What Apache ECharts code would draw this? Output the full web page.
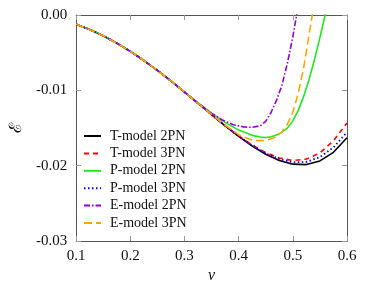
<!DOCTYPE html>
<html>
<head>
<meta charset="utf-8">
<script src="https://cdn.jsdelivr.net/npm/echarts@6/dist/echarts.min.js"></script>
<style>html,body{margin:0;padding:0;background:#fff}#c{width:374px;height:289px}</style>
</head>
<body>
<div id="c"></div>
<script>
// ---- data ----
const xTicks = [0.1, 0.2, 0.3, 0.4, 0.5, 0.6];
const yTicks = [-0.03, -0.02, -0.01, 0.00];

const vT = [0.100,0.125,0.150,0.175,0.200,0.225,0.250,0.275,0.300,0.325,0.350,0.375,0.400,0.425,0.450,0.475,0.500,0.525,0.550,0.575,0.600];
const tModel2PN = [-0.00124,-0.00193,-0.00276,-0.00373,-0.00482,-0.00604,-0.00735,-0.00875,-0.01022,-0.01172,-0.01323,-0.01471,-0.01611,-0.01738,-0.01847,-0.01930,-0.01979,-0.01985,-0.01936,-0.01822,-0.01628];
const tModel3PN = [-0.00124,-0.00193,-0.00276,-0.00373,-0.00482,-0.00604,-0.00735,-0.00875,-0.01022,-0.01171,-0.01320,-0.01466,-0.01603,-0.01725,-0.01826,-0.01898,-0.01931,-0.01912,-0.01830,-0.01670,-0.01432];
const pModel3PN = [-0.00124,-0.00193,-0.00276,-0.00373,-0.00482,-0.00604,-0.00735,-0.00875,-0.01022,-0.01172,-0.01322,-0.01469,-0.01607,-0.01731,-0.01836,-0.01912,-0.01955,-0.01950,-0.01885,-0.01757,-0.01555];

const vP2 = [0.100,0.125,0.150,0.175,0.200,0.225,0.250,0.275,0.300,0.325,0.350,0.375,0.400,0.425,0.440,0.450,0.460,0.475,0.490,0.500,0.510,0.520,0.530,0.540,0.550,0.560,0.565];
const pModel2PN = [-0.00124,-0.00193,-0.00276,-0.00373,-0.00482,-0.00604,-0.00735,-0.00875,-0.01022,-0.01166,-0.01302,-0.01425,-0.01527,-0.01597,-0.01619,-0.01625,-0.01617,-0.01578,-0.01500,-0.01405,-0.01265,-0.01080,-0.00855,-0.00590,-0.00300,0.00010,0.00170];

const vE3 = [0.100,0.125,0.150,0.175,0.200,0.225,0.250,0.275,0.300,0.325,0.350,0.375,0.400,0.420,0.435,0.450,0.465,0.480,0.490,0.500,0.510,0.520,0.530,0.540];
const eModel3PN = [-0.00124,-0.00193,-0.00276,-0.00373,-0.00482,-0.00604,-0.00735,-0.00875,-0.01022,-0.01171,-0.01320,-0.01462,-0.01588,-0.01650,-0.01667,-0.01664,-0.01630,-0.01550,-0.01450,-0.01290,-0.01040,-0.00700,-0.00260,0.00180];

const vE2 = [0.100,0.125,0.150,0.175,0.200,0.225,0.250,0.275,0.300,0.325,0.350,0.370,0.390,0.410,0.425,0.440,0.450,0.460,0.470,0.480,0.490,0.500,0.510];
const eModel2PN = [-0.00124,-0.00193,-0.00276,-0.00373,-0.00482,-0.00604,-0.00735,-0.00875,-0.01022,-0.01168,-0.01305,-0.01393,-0.01455,-0.01486,-0.01490,-0.01470,-0.01410,-0.01290,-0.01130,-0.00930,-0.00640,-0.00290,0.00130];

const names = ['T-model 2PN','T-model 3PN','P-model 2PN','P-model 3PN','E-model 2PN','E-model 3PN'];
// ---------------------------------------

function pairs(xs, ys){ return xs.map((x,i)=>[x, ys[i]]); }

const FONT = '"Liberation Serif", "Times New Roman", serif';
const chart = echarts.init(document.getElementById('c'), null, {renderer:'canvas'});

function xAx(pos, show){
  return {type:'value', position:pos, min:0.1, max:0.6, interval:0.1,
    axisLine:{show:true, onZero:false, lineStyle:{color:'#555', width:1}},
    axisTick:{show:true, inside:true, length:5, lineStyle:{color:'#999'}},
    axisLabel:{show:show, margin:7, color:'#111', fontFamily:FONT, fontSize:15,
      formatter:v=>v.toFixed(1)},
    splitLine:{show:false},
    name: show ? 'v' : '', nameLocation:'middle', nameGap:17,
    nameTextStyle:{fontFamily:FONT, fontStyle:'italic', fontSize:16, color:'#111'}
  };
}
function yAx(pos, show){
  return {type:'value', position:pos, min:-0.03, max:0, interval:0.01,
    axisLine:{show:true, onZero:false, lineStyle:{color:'#555', width:1}},
    axisTick:{show:true, inside:true, length:5, lineStyle:{color:'#999'}},
    axisLabel:{show:show, margin:9, color:'#111', fontFamily:FONT, fontSize:15,
      formatter:v=>v.toFixed(2)},
    splitLine:{show:false},
    name: show ? 'ℰ' : '', nameLocation:'middle', nameGap:34, nameRotate:90,
    nameTextStyle:{fontFamily:FONT, fontSize:17, color:'#111'}
  };
}

function ser(name, data, color, type, width){
  return {name, type:'line', data, symbol:'none', smooth:false, clip:true,
    xAxisIndex:0, yAxisIndex:0,
    lineStyle:{color, width, type}, itemStyle:{color}, z:2};
}

chart.setOption({
  animation:false,
  grid:{left:72, right:27, top:15, bottom:44, containLabel:false},
  xAxis:[xAx('bottom', true), xAx('top', false)],
  yAxis:[yAx('left', true), yAx('right', false)],
  legend:{orient:'vertical', left:78, top:124, itemWidth:17, itemHeight:14, itemGap:3.4,
    itemStyle:{opacity:0},
    textStyle:{fontFamily:FONT, fontSize:14, color:'#111', padding:[0,0,0,4]},
    data:names},
  series:[
    ser(names[0], pairs(vT, tModel2PN), '#000000', 'solid', 1.6),
    ser(names[1], pairs(vT, tModel3PN), '#ff0000', [5,4], 1.6),
    ser(names[2], pairs(vP2, pModel2PN), '#22e622', 'solid', 1.6),
    ser(names[3], pairs(vT, pModel3PN), '#0000ff', [1.5,2.5], 1.8),
    ser(names[4], pairs(vE2, eModel2PN), '#9400d3', [6,2,1.5,2], 1.6),
    ser(names[5], pairs(vE3, eModel3PN), '#ffa500', [8,4], 1.6)
  ]
});
</script>
</body>
</html>
